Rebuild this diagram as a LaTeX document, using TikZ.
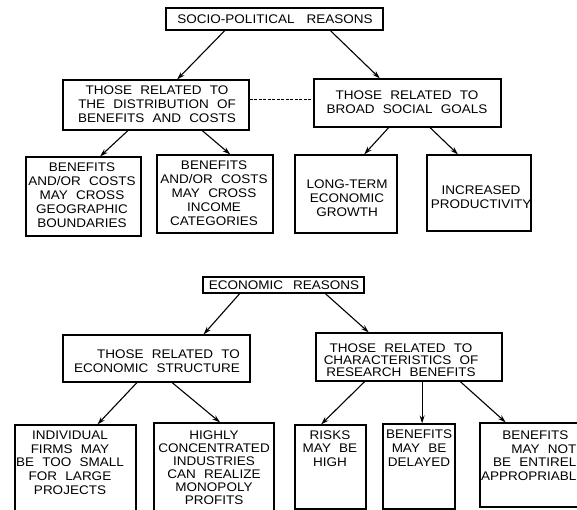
\documentclass[tikz,border=0pt]{standalone}
\usepackage{fontspec}
\setmainfont{Liberation Sans}[FakeStretch=1.08, WordSpace=2.2]
\usetikzlibrary{arrows.meta,calc}
\begin{document}
\begin{tikzpicture}[x=1pt,y=-1pt,
  box/.style={draw, line width=1.2pt, inner sep=0pt},
  txt/.style={align=center, inner sep=0pt, font=\fontsize{12.5}{14}\selectfont},
  arr/.style={line width=1.1pt, -{Stealth[length=8pt,width=5pt]}},
  dashln/.style={line width=1.1pt, dash pattern=on 3pt off 1.5pt}
]
\useasboundingbox (0,0) rectangle (577,510);
\fill[white] (0,0) rectangle (577,510);

% ---------- socio-political ----------
\node[box, minimum width=217pt, minimum height=22pt] (sp) at (274.5,19) {};
\node[txt] (spt) at (275,19) {SOCIO-POLITICAL\hspace{12pt}REASONS};

\node[box, minimum width=186pt, minimum height=50pt] (d1) at (156,105) {};
\node[txt] (d1t) at (157,104) {THOSE RELATED TO\\THE DISTRIBUTION OF\\BENEFITS AND COSTS};

\node[box, minimum width=187pt, minimum height=48pt] (d2) at (407.5,103) {};
\node[txt] (d2t) at (407,102) {THOSE RELATED TO\\BROAD SOCIAL GOALS};

\node[box, minimum width=115pt, minimum height=79pt] (b1) at (83.5,196.5) {};
\node[txt] (b1t) at (82,195) {BENEFITS\\AND/OR COSTS\\MAY CROSS\\GEOGRAPHIC\\BOUNDARIES};

\node[box, minimum width=116pt, minimum height=78pt] (b2) at (215,194) {};
\node[txt] (b2t) at (214,193.5) {BENEFITS\\AND/OR COSTS\\MAY CROSS\\INCOME\\CATEGORIES};

\node[box, minimum width=102pt, minimum height=78pt] (b3) at (346,194) {};
\node[txt] (b3t) at (347,198) {LONG-TERM\\ECONOMIC\\GROWTH};

\node[box, minimum width=104pt, minimum height=76pt] (b4) at (479,193) {};
\node[txt] (b4t) at (481,197.5) {INCREASED\\PRODUCTIVITY};

\draw[arr] ($(sp.south west)!0.272!(sp.south east)$) -- ($(d1.north west)!0.613!(d1.north east)$);
\draw[arr] ($(sp.south west)!0.756!(sp.south east)$) -- ($(d2.north west)!0.353!(d2.north east)$);
\draw[arr] ($(d1.south west)!0.35!(d1.south east)$) -- ($(b1.north west)!0.643!(b1.north east)$);
\draw[arr] ($(d1.south west)!0.747!(d1.south east)$) -- ($(b2.north west)!0.63!(b2.north east)$);
\draw[arr] ($(d2.south west)!0.40!(d2.south east)$) -- ($(b3.north west)!0.676!(b3.north east)$);
\draw[arr] ($(d2.south west)!0.62!(d2.south east)$) -- ($(b4.north west)!0.30!(b4.north east)$);
\draw[dashln] ($(d1.north east)!0.4!(d1.south east)$) coordinate (dl) -- (dl -| d2.west);

% ---------- economic ----------
\node[box, minimum width=161pt, minimum height=16pt] (er) at (283.5,285) {};
\node[txt] (ert) at (284,285) {ECONOMIC\hspace{10pt}REASONS};

\node[box, minimum width=187pt, minimum height=47pt] (e1) at (156.5,358.5) {};
\node[txt, align=right, anchor=east] (e1t) at (240,361) {THOSE RELATED TO\\ECONOMIC STRUCTURE};

\node[box, minimum width=186pt, minimum height=48pt] (e2) at (409,357) {};
\node[txt, font=\fontsize{12.5}{12}\selectfont] (e2t) at (401,360) {THOSE RELATED TO\\CHARACTERISTICS OF\\RESEARCH BENEFITS};

\node[box, minimum width=121pt, minimum height=105pt] (c1) at (75.5,477.5) {};
\node[txt, anchor=north, font=\fontsize{12.5}{13.75}\selectfont] (c1t) at (70,430.5) {INDIVIDUAL\\FIRMS MAY\\BE TOO SMALL\\FOR LARGE\\PROJECTS};

\node[box, minimum width=120pt, minimum height=107pt] (c2) at (214,476.5) {};
\node[txt, anchor=north, font=\fontsize{12.5}{13}\selectfont] (c2t) at (214,430.5) {HIGHLY\\CONCENTRATED\\INDUSTRIES\\CAN REALIZE\\MONOPOLY\\PROFITS};

\node[box, minimum width=71pt, minimum height=84pt] (c3) at (330.5,467) {};
\node[txt, anchor=north, font=\fontsize{12.5}{13.5}\selectfont] (c3t) at (330,430.5) {RISKS\\MAY BE\\HIGH};

\node[box, minimum width=72pt, minimum height=85pt] (c4) at (419,466.5) {};
\node[txt, anchor=north] (c4t) at (419,429.5) {BENEFITS\\MAY BE\\DELAYED};

\node[box, minimum width=120pt, minimum height=84pt] (c5) at (540,465) {};
\node[txt, align=right, anchor=north east, font=\fontsize{12.5}{13.7}\selectfont] (c5t) at (576.5,430.5) {BENEFITS\hspace*{8pt}\\MAY NOT\hspace*{4pt}\\BE ENTIREL\\APPROPRIABL};

\draw[arr] ($(er.south west)!0.23!(er.south east)$) -- ($(e1.north west)!0.75!(e1.north east)$);
\draw[arr] ($(er.south west)!0.758!(er.south east)$) -- ($(e2.north west)!0.285!(e2.north east)$);
\draw[arr] ($(e1.south west)!0.396!(e1.south east)$) -- ($(c1.north west)!0.68!(c1.north east)$);
\draw[arr] ($(e1.south west)!0.583!(e1.south east)$) -- ($(c2.north west)!0.55!(c2.north east)$);
\draw[arr] ($(e2.south west)!0.263!(e2.south east)$) -- ($(c3.north west)!0.37!(c3.north east)$);
\draw[arr] ($(e2.south west)!0.57!(e2.south east)$) coordinate (q) -- (q |- c4.north);
\draw[arr] ($(e2.south west)!0.774!(e2.south east)$) -- ($(c5.north west)!0.217!(c5.north east)$);
\end{tikzpicture}
\end{document}
